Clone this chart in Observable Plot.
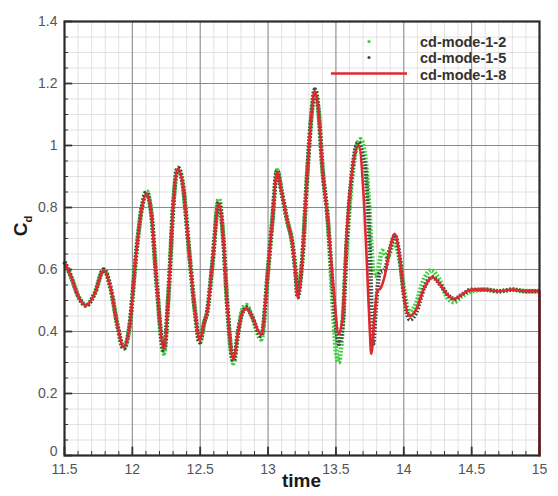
<!DOCTYPE html>
<html>
<head>
<meta charset="utf-8">
<script src="https://cdn.jsdelivr.net/npm/d3@7"></script>
<script src="https://cdn.jsdelivr.net/npm/@observablehq/plot@0.6"></script>
<style>
  html, body { margin: 0; padding: 0; background: #fff; }
  #chart { width: 558px; height: 496px; }
</style>
</head>
<body>
<div id="chart"></div>
<script>
// ---- data ----
const seriesNames = ["cd-mode-1-2", "cd-mode-1-5", "cd-mode-1-8"];

const timeMode8 = [11.50,11.55,11.60,11.66,11.72,11.79,11.84,11.89,11.937,11.98,12.03,12.07,12.104,12.14,12.18,12.232,12.27,12.30,12.335,12.37,12.42,12.46,12.497,12.53,12.55,12.59,12.637,12.67,12.70,12.745,12.78,12.81,12.84,12.88,12.95,13.00,13.03,13.067,13.10,13.14,13.18,13.20,13.218,13.25,13.29,13.32,13.343,13.37,13.40,13.44,13.48,13.52,13.55,13.58,13.62,13.668,13.705,13.73,13.75,13.76,13.785,13.804,13.83,13.86,13.90,13.932,13.97,14.00,14.04,14.09,14.15,14.21,14.27,14.32,14.375,14.43,14.50,14.60,14.70,14.80,14.90,15.00,15.00];
const cdMode8   = [0.624,0.575,0.515,0.484,0.52,0.597,0.54,0.42,0.349,0.42,0.66,0.80,0.844,0.78,0.55,0.344,0.55,0.80,0.925,0.88,0.65,0.47,0.371,0.43,0.46,0.62,0.812,0.70,0.48,0.31,0.40,0.46,0.473,0.45,0.39,0.60,0.75,0.914,0.85,0.76,0.68,0.60,0.51,0.62,0.92,1.10,1.175,1.12,0.93,0.76,0.55,0.393,0.45,0.72,0.92,1.00,0.83,0.60,0.40,0.328,0.45,0.53,0.54,0.58,0.67,0.715,0.64,0.52,0.450,0.47,0.54,0.575,0.55,0.52,0.505,0.52,0.535,0.535,0.53,0.535,0.53,0.53,0.0];

const timeMode5 = [11.50,11.55,11.60,11.66,11.72,11.79,11.84,11.89,11.937,11.98,12.03,12.07,12.104,12.14,12.18,12.232,12.27,12.30,12.335,12.37,12.42,12.46,12.497,12.53,12.55,12.59,12.637,12.67,12.70,12.745,12.78,12.81,12.84,12.88,12.95,13.00,13.03,13.067,13.10,13.14,13.18,13.20,13.218,13.25,13.29,13.32,13.345,13.37,13.40,13.44,13.48,13.50,13.52,13.55,13.58,13.62,13.665,13.70,13.718,13.73,13.742,13.755,13.766,13.775,13.79,13.823,13.86,13.90,13.934,13.97,14.00,14.045,14.09,14.15,14.21,14.27,14.32,14.375,14.43,14.50,14.60,14.70,14.80,14.90,15.00];
const cdMode5   = [0.624,0.575,0.515,0.484,0.52,0.600,0.54,0.42,0.345,0.42,0.66,0.80,0.848,0.78,0.55,0.338,0.55,0.80,0.928,0.88,0.65,0.47,0.365,0.43,0.46,0.62,0.818,0.70,0.48,0.305,0.40,0.46,0.478,0.45,0.385,0.60,0.75,0.92,0.85,0.76,0.68,0.60,0.51,0.62,0.92,1.10,1.18,1.12,0.93,0.76,0.52,0.42,0.36,0.42,0.70,0.92,1.01,0.96,0.92,0.84,0.74,0.58,0.42,0.36,0.45,0.59,0.60,0.67,0.71,0.64,0.52,0.438,0.46,0.54,0.575,0.55,0.52,0.505,0.52,0.535,0.535,0.53,0.535,0.53,0.53];

const timeMode2 = [11.50,11.55,11.60,11.66,11.72,11.79,11.84,11.89,11.937,11.98,12.03,12.07,12.104,12.14,12.18,12.232,12.27,12.30,12.335,12.37,12.42,12.46,12.497,12.53,12.55,12.59,12.637,12.67,12.70,12.745,12.78,12.81,12.84,12.88,12.95,13.00,13.03,13.067,13.10,13.14,13.18,13.20,13.218,13.25,13.29,13.32,13.345,13.37,13.40,13.44,13.48,13.50,13.52,13.54,13.57,13.62,13.68,13.71,13.73,13.745,13.76,13.78,13.80,13.84,13.88,13.93,13.97,14.00,14.04,14.09,14.15,14.20,14.27,14.32,14.37,14.43,14.50,14.60,14.70,14.80,14.90,15.00];
const cdMode2   = [0.624,0.575,0.515,0.484,0.52,0.600,0.54,0.42,0.345,0.42,0.66,0.80,0.853,0.78,0.55,0.329,0.55,0.80,0.928,0.88,0.65,0.47,0.365,0.43,0.46,0.62,0.828,0.70,0.48,0.298,0.40,0.47,0.485,0.45,0.375,0.60,0.75,0.92,0.85,0.76,0.68,0.61,0.54,0.62,0.92,1.10,1.18,1.12,0.93,0.76,0.46,0.34,0.30,0.36,0.60,0.90,1.02,0.98,0.90,0.80,0.68,0.58,0.58,0.66,0.64,0.69,0.63,0.54,0.46,0.49,0.57,0.597,0.56,0.51,0.495,0.515,0.53,0.535,0.53,0.535,0.53,0.53];

const xMajorTicks = [11.5, 12, 12.5, 13, 13.5, 14, 14.5, 15];
const yMajorTicks = [0, 0.2, 0.4, 0.6, 0.8, 1, 1.2, 1.4];
const xMinorTicks = d3.range(115, 151, 1).map(d => d / 10);
const yMinorTicks = d3.range(0, 29, 1).map(d => d * 0.05);

const seriesColors = ["#3ccf3c", "#3d4a3d", "#e0282e"];

// ---- build tables ----
const mk = (ts, vs) => ts.map((t, i) => ({time: t, cd: vs[i]}));
const d2 = mk(timeMode2, cdMode2);
const d5 = mk(timeMode5, cdMode5);
const d8 = mk(timeMode8, cdMode8);

const fmt = d => String(+(+d).toFixed(1));

const plot = Plot.plot({
  width: 558,
  height: 496,
  marginLeft: 64,
  marginRight: 19,
  marginTop: 21,
  marginBottom: 41,
  style: {fontFamily: "'Liberation Sans', Arial, sans-serif", background: "#fff"},
  x: {domain: [11.5, 15]},
  y: {domain: [0, 1.4]},
  marks: [
    Plot.gridX(xMinorTicks, {stroke: "#dadada", strokeOpacity: 1, strokeWidth: 0.8}),
    Plot.gridY(yMinorTicks, {stroke: "#dadada", strokeOpacity: 1, strokeWidth: 0.8}),
    Plot.gridX(xMajorTicks, {stroke: "#8a8a8a", strokeOpacity: 1, strokeWidth: 1}),
    Plot.gridY(yMajorTicks, {stroke: "#8a8a8a", strokeOpacity: 1, strokeWidth: 1}),
    // inward ticks
    Plot.ruleX(xMinorTicks, {y1: 0, y2: 0.013, stroke: "#333", strokeWidth: 1}),
    Plot.ruleX(xMajorTicks, {y1: 0, y2: 0.027, stroke: "#333", strokeWidth: 1.8}),
    Plot.ruleY(yMinorTicks, {x1: 11.5, x2: 11.53, stroke: "#333", strokeWidth: 1}),
    Plot.ruleY(yMajorTicks, {x1: 11.5, x2: 11.56, stroke: "#333", strokeWidth: 1.8}),
    // series
    Plot.line(d2, {x: "time", y: "cd", curve: "monotone-x", stroke: seriesColors[0], strokeWidth: 4.8, strokeDasharray: "1.8,1.6", strokeLinecap: "butt"}),
    Plot.line(d5, {x: "time", y: "cd", curve: "monotone-x", stroke: seriesColors[1], strokeWidth: 4.4, strokeDasharray: "1.6,1.6", strokeLinecap: "butt"}),
    Plot.line(d8, {x: "time", y: "cd", curve: "monotone-x", stroke: seriesColors[2], strokeWidth: 2.6}),
    Plot.axisX(xMajorTicks, {tickSize: 0, tickPadding: 9, fontSize: 14, fill: "#555", tickFormat: fmt, label: null}),
    Plot.axisY(yMajorTicks.filter(d => d !== 0), {tickSize: 0, tickPadding: 7, fontSize: 14, fill: "#555", tickFormat: fmt, label: null}),
    Plot.axisY([0], {tickSize: 0, tickPadding: 7, dy: -4, fontSize: 14, fill: "#555", tickFormat: fmt, label: null}),
    Plot.frame({stroke: "#2a2a2a", strokeWidth: 2.2})
  ]
});

document.getElementById("chart").appendChild(plot);

// ---- titles and legend ----
const svg = d3.select(plot);
const sx = plot.scale("x");

svg.append("text")
  .attr("x", sx.apply(13.25)).attr("y", 487)
  .attr("text-anchor", "middle")
  .attr("font-family", "'Liberation Sans', Arial, sans-serif")
  .attr("font-weight", "bold").attr("font-size", 19).attr("fill", "#1a1a1a")
  .text("time");

const yl = svg.append("text")
  .attr("transform", "translate(27,226) rotate(-90)")
  .attr("text-anchor", "middle")
  .attr("font-family", "'Liberation Sans', Arial, sans-serif")
  .attr("font-weight", "bold").attr("font-size", 19).attr("fill", "#1a1a1a");
yl.append("tspan").text("C");
yl.append("tspan").attr("font-size", 11).attr("dy", 5).text("d");

const legRows = [41.5, 57.5, 75];
const lg = svg.append("g")
  .attr("font-family", "'Liberation Sans', Arial, sans-serif")
  .attr("text-anchor", "start")
  .attr("font-weight", "bold").attr("font-size", 14.5).attr("fill", "#333");
seriesNames.forEach((name, i) => {
  const y = legRows[i];
  if (i < 2) {
    lg.append("circle").attr("cx", 369).attr("cy", y).attr("r", 1.6).attr("fill", seriesColors[i]);
  } else {
    lg.append("line").attr("x1", 331).attr("x2", 407).attr("y1", y - 1.5).attr("y2", y - 1.5)
      .attr("stroke", seriesColors[i]).attr("stroke-width", 2.4);
  }
  lg.append("text").attr("x", 420).attr("y", y + 5).attr("text-anchor", "start").text(name);
});
</script>
</body>
</html>
